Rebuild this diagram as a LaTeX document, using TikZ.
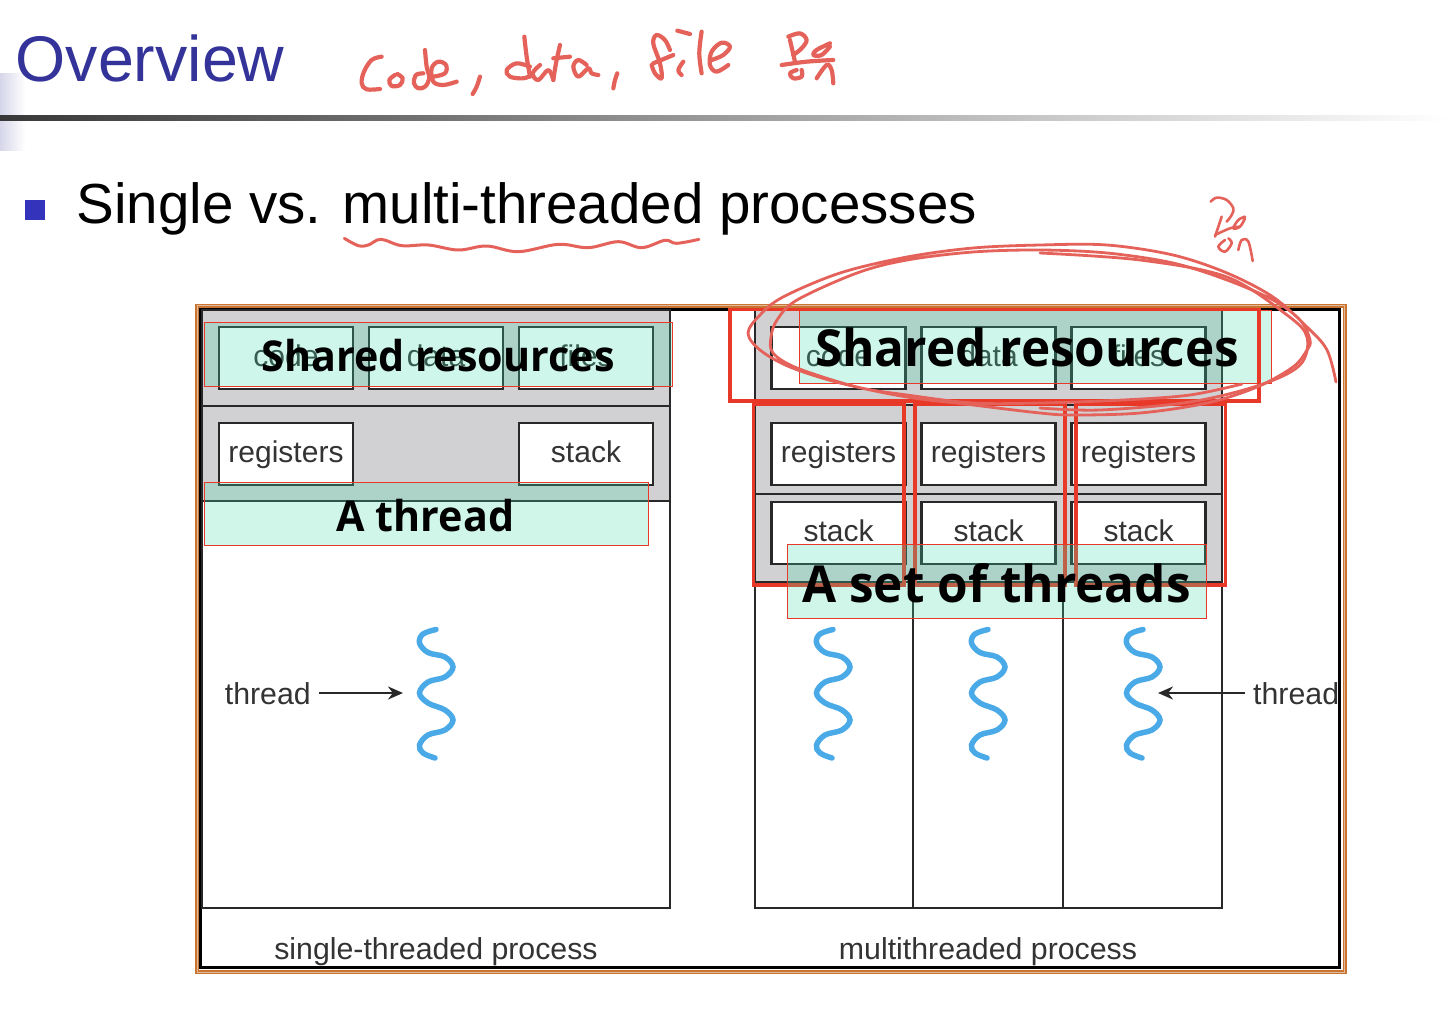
\documentclass[tikz,border=0pt]{standalone}
\usepackage{fontspec}
\setmainfont{Liberation Sans}
\newfontfamily\notefont[FakeStretch=.97]{Open Sans}
\usetikzlibrary{positioning, arrows.meta}
\definecolor{titleblue}{RGB}{51,51,153}
\definecolor{bulletblue}{RGB}{51,51,187}
\definecolor{lineblack}{RGB}{40,40,40}
\definecolor{procgray}{RGB}{209,209,211}
\definecolor{frameorange}{RGB}{200,116,50}
\definecolor{wavecyan}{RGB}{74,170,232}
\definecolor{inkred}{RGB}{228,98,90}
\definecolor{boxred}{RGB}{232,56,40}
\definecolor{notemint}{RGB}{67,220,172}
\begin{document}
\begin{tikzpicture}[
  x=1pt, y=-1pt,
  node distance = 34pt and 16pt,
  proc/.style = {draw=lineblack, line width=2.2pt},
  box/.style = {draw=lineblack, line width=2.2pt, fill=white, minimum width=134pt,
                minimum height=62pt, inner sep=0pt, outer sep=0pt, text height=22pt, text depth=6pt,
                text=black!80, font=\fontsize{30}{30}\selectfont},
  lbl/.style = {text=black!80, font=\fontsize{30.3}{30}\selectfont},
  arr/.style = {-{Stealth[length=15pt, width=13pt]}, line width=2.4pt, lineblack},
  wave/.style = {wavecyan, line width=5.5pt, line cap=round},
  ink/.style = {inkred, line width=4.2pt, line cap=round, line join=round},
  loopink/.style = {inkred, line width=2.8pt, line cap=round},
  redbox/.style = {boxred, line width=3.6pt},
  note/.style = {draw=boxred, line width=.9pt, fill=notemint, fill opacity=.25, draw opacity=1},
  notetext/.style = {inner sep=0pt, text=black},
]
  \useasboundingbox (0,0) rectangle (1450,1012);

  % title and rule
  \shade[left color=titleblue!20, right color=white] (0,73) rectangle (25,150);
  \shade[left color=black!78, right color=white] (0,115) rectangle (1450,120);
  \node[anchor=base west, inner sep=0pt, text=titleblue, font=\fontsize{64.5}{64}\selectfont]
    (title) at (15.5,81) {Overview};
  \node[fill=bulletblue, minimum size=20pt, inner sep=0pt] (bullet) at (35,209.5) {};
  \node[anchor=base west, inner sep=0pt, text=black, font=\fontsize{56.5}{57}\selectfont]
    (head) at (76.5,223) {Single vs. multi-threaded processes};

  % frame
  \draw[frameorange, line width=4pt] (197,305.5) rectangle (1344.5,972);
  \draw[white!50!frameorange, line width=.8pt] (197,305.5) rectangle (1344.5,972);
  \draw[black, line width=2.5pt] (200.5,309.5) rectangle (1339.5,967.5);

  % single-threaded process
  \draw[proc] (202,501) rectangle (670,908);
  \draw[proc, fill=procgray] (202,310) rectangle (670,406);
  \draw[proc, fill=procgray] (202,406) rectangle (670,501);
  \node[box] (code1) at (286,358) {code};
  \node[box, right=of code1] (data1) {data};
  \node[box, right=of data1] (files1) {files};
  \node[box, below=of code1] (regs1) {registers};
  \node[box, below=of files1] (stack1) {stack};

  % multithreaded process
  \draw[proc] (755,582) rectangle (1222,908);
  \draw[proc] (913,582) -- (913,908);
  \draw[proc] (1063,582) -- (1063,908);
  \draw[proc, fill=procgray] (755,310) rectangle (1222,405);
  \draw[proc, fill=procgray] (755,405) rectangle (1222,494);
  \draw[proc, fill=procgray] (755,494) rectangle (1222,582);
  \node[box] (code2) at (838.5,358) {code};
  \node[box, right=of code2] (data2) {data};
  \node[box, right=of data2] (files2) {files};
  \foreach \name/\col in {a/code2, b/data2, c/files2} {
    \node[box, below=of \col] (regs\name) {registers};
    \node[box, below=17pt of regs\name] (stack\name) {stack};
  }

  % threads
  \foreach \dx in {0, 397, 552, 707} {
    \draw[wave, shift={(\dx,0)}] plot[smooth, tension=.6] coordinates {
      (436,629.5) (423,634) (419.5,643) (428,652.5) (445,657) (453,667) (445,677) (428,682)
      (419.5,693) (428,703) (445,710) (453,720) (445,730) (428,735) (419.5,745) (423,753) (435,758)};
  }
  \coordinate (waveL) at (403,693);
  \coordinate (waveR) at (1158,693);
  \node[lbl, anchor=east, inner sep=8pt] (threadL) at (319,694) {thread};
  \node[lbl, anchor=west, inner sep=8pt] (threadR) at (1245,694) {thread};
  \draw[arr] (threadL.east |- waveL) -- (waveL);
  \draw[arr] (threadR.west |- waveR) -- (waveR);

  \node[lbl] (single) at (436,952) {single-threaded process};
  \node[lbl] (multi) at (988,952) {multithreaded process};

  % typed notes and red boxes
  \draw[note] (204.5,322) rectangle (672.5,386);
  \draw[note] (204.5,482) rectangle (648,545);
  \draw[note] (799,310) rectangle (1271,383);
  \draw[redbox] (730,309.5) rectangle (1259,401);
  \foreach \xa/\xb in {753.5/904, 915/1065, 1076/1225.5} {
    \draw[redbox] (\xa,404) rectangle (\xb,585);
  }
  \draw[note] (787,544) rectangle (1206,618);
  \node[notetext, font=\notefont\fontsize{42.5}{42}\bfseries] (shared1) at (438,356) {Shared resources};
  \node[notetext, font=\notefont\fontsize{42.5}{42}\bfseries] (thread1) at (425.5,516) {A thread};
  \node[notetext, font=\notefont\fontsize{51}{51}\bfseries] (shared2) at (1027,347) {Shared resources};
  \node[notetext, font=\notefont\fontsize{51}{51}\bfseries] (thread2) at (996.5,583) {A set of threads};

  % handwriting over the slide
  \begin{scope}[shift={(340,20)}, x=.3333pt, y=-.3333pt]
    \foreach \pts in {
      {(125,110) (95,120) (72,155) (65,190) (80,208) (120,207)},
      {(165,165) (148,180) (155,198) (180,195) (188,175) (172,162)},
      {(255,90) (260,140) (268,175) (255,200) (235,205) (222,190) (228,165) (250,160)},
      {(280,170) (315,160) (318,135) (295,125) (275,145) (280,185) (310,195) (350,185)},
      {(420,170) (410,200) (398,222)},
      {(553,50) (560,110) (570,170)},
      {(570,140) (530,130) (500,150) (510,170) (550,175) (575,165)},
      {(600,135) (578,160) (595,180) (625,150) (640,180)},
      {(660,75) (648,130) (640,180)},
      {(640,115) (690,110)},
      {(740,135) (715,120) (700,140) (715,170) (745,145) (755,160) (775,165)},
      {(832,160) (825,180) (820,205)},
      {(990,90) (975,60) (950,45) (940,70) (960,130) (965,175) (945,160) (935,135)},
      {(940,130) (1000,105)},
      {(1030,125) (1015,150) (1025,165)},
      {(1012,32) (1050,42)},
      {(1085,35) (1078,100) (1085,160)},
      {(1115,120) (1150,105) (1170,80) (1145,68) (1115,95) (1110,135) (1130,155) (1165,135)},
      {(1345,50) (1380,40) (1400,60) (1385,85) (1360,105)},
      {(1350,60) (1365,125)},
      {(1325,135) (1400,125) (1480,120)},
      {(1470,70) (1430,90) (1420,105) (1445,105) (1470,80)},
      {(1370,150) (1350,160) (1360,175) (1385,170) (1385,150)},
      {(1430,175) (1460,135) (1475,150) (1480,190)}} {
      \draw[ink] plot[smooth, tension=.6] coordinates {\pts};
    }
  \end{scope}
  \begin{scope}[shift={(335,225)}, x=.3333pt, y=-.3333pt]
    \draw[ink, line width=3pt] plot[smooth, tension=.6] coordinates {
      (28,40) (70,62) (100,60) (138,43) (200,62) (280,60) (370,75) (455,63) (550,80)
      (670,58) (760,68) (850,50) (920,68) (990,46) (1025,55) (1092,43)};
  \end{scope}
  \begin{scope}[shift={(1190,185)}, x=.3333pt, y=-.3333pt]
    \foreach \pts in {
      {(62,50) (80,38) (110,45) (130,70) (125,90) (110,110)},
      {(95,95) (75,155)},
      {(75,150) (120,130) (150,125)},
      {(165,95) (145,105) (130,130) (150,125) (165,100)},
      {(105,165) (85,185) (105,200) (125,175) (115,160)},
      {(145,195) (155,165) (175,170) (188,228)}} {
      \draw[ink, line width=2.6pt] plot[smooth, tension=.6] coordinates {\pts};
    }
  \end{scope}
  \draw[loopink] plot[smooth, tension=.55] coordinates {
    (1242,384) (1190,395) (1123,400) (1040,403) (973,403) (907,395) (857,387) (797,368)
    (773,353) (771,337) (777,320) (797,300) (857,273) (907,260) (973,252) (1040,250)
    (1107,253) (1173,263) (1227,280) (1273,300) (1300,320) (1310,340) (1307,350) (1293,367)
    (1257,387) (1207,403) (1140,413) (1073,415) (1040,413) (973,405) (907,397) (840,383)
    (790,367) (760,350) (748,333) (760,315) (783,297) (840,273) (907,257) (973,248)
    (1040,245) (1107,245) (1173,255) (1227,273) (1273,297) (1307,327) (1327,350) (1336,382)};
  \draw[loopink] plot[smooth, tension=.55] coordinates {
    (1040,253) (1140,260) (1227,277) (1287,315) (1307,337) (1300,365) (1260,385) (1190,402)
    (1100,410) (1040,408)};
\end{tikzpicture}
\end{document}
